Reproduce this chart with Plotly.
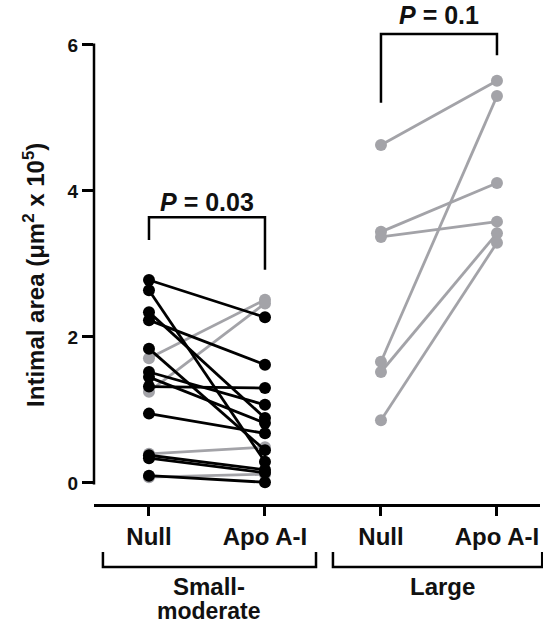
import plotly.graph_objects as go

# ---- data ----
x_cats = ["Null", "Apo A-I", "Null", "Apo A-I"]
x_pos = [1, 2, 3, 4]
y_ticks = [0, 2, 4, 6]

small_null_black = [2.78, 2.64, 2.34, 2.23, 1.84, 1.52, 1.45, 1.32, 0.95, 0.38, 0.34, 0.10]
small_apo_black = [2.27, 0.29, 0.89, 1.62, 0.45, 1.07, 0.82, 1.30, 0.68, 0.18, 0.14, 0.01]
small_null_gray = [1.71, 1.25, 0.40, 0.08]
small_apo_gray = [2.51, 2.46, 0.49, 0.12]
large_null = [4.63, 3.44, 3.37, 1.66, 1.52, 0.86]
large_apo = [5.51, 4.11, 3.58, 5.30, 3.42, 3.29]

group_small_lines = ["Small-", "moderate"]
group_large = "Large"

BLACK = "#000000"
GRAY = "#a3a3a8"
FONT = "Arial, Liberation Sans, sans-serif"

W, H = 543, 626
L, R, T, B = 94, 3, 10, 122
X_MIN, X_MAX = 0.526, 4.371
Y_MIN, Y_MAX = -0.288, 6.479


def pairs(xa, xb, ya, yb):
    xs, ys = [], []
    for a, b in zip(ya, yb):
        xs += [xa, xb, None]
        ys += [a, b, None]
    return xs, ys


def px_to_paper_y(py):
    return (H - B - py) / (H - T - B)


def xdata_to_paper(xd):
    return (xd - X_MIN) / (X_MAX - X_MIN)


fig = go.Figure()

for (xa, xb, ya, yb, col) in [
    (1, 2, small_null_gray, small_apo_gray, GRAY),
    (3, 4, large_null, large_apo, GRAY),
    (1, 2, small_null_black, small_apo_black, BLACK),
]:
    xs, ys = pairs(xa, xb, ya, yb)
    fig.add_trace(go.Scatter(
        x=xs, y=ys, mode="lines+markers",
        line=dict(color=col, width=2.8),
        marker=dict(color=col, size=12),
        showlegend=False, hoverinfo="skip",
    ))

shapes = []
# y axis line (offset style)
shapes.append(dict(type="line", xref="paper", yref="y", x0=0, x1=0, y0=-0.02, y1=6.02,
                   line=dict(color=BLACK, width=2.5)))
# significance brackets
shapes.append(dict(type="path", xref="x", yref="y",
                   path="M 1 3.33 L 1 3.64 L 2 3.64 L 2 2.92",
                   line=dict(color=BLACK, width=2.5)))
shapes.append(dict(type="path", xref="x", yref="y",
                   path="M 3 5.21 L 3 6.15 L 4 6.15 L 4 5.86",
                   line=dict(color=BLACK, width=2.5)))
# group brackets below axis
yb_top = px_to_paper_y(552)
yb_bot = px_to_paper_y(567)
for x0, x1 in [(0.603, 2.44), (2.586, 4.39)]:
    p0, p1 = xdata_to_paper(x0), xdata_to_paper(x1)
    shapes.append(dict(type="path", xref="paper", yref="paper",
                       path=f"M {p0} {yb_top} L {p0} {yb_bot} L {p1} {yb_bot} L {p1} {yb_top}",
                       line=dict(color=BLACK, width=2.5)))

ann_font = dict(family=FONT, size=24, color="#111")
annotations = [
    dict(x=1.5, y=3.85, xref="x", yref="y", text="<b><i>P</i> = 0.03</b>", showarrow=False,
         xanchor="center", yanchor="middle", font=dict(family=FONT, size=25, color="#111")),
    dict(x=3.5, y=6.41, xref="x", yref="y", text="<b><i>P</i> = 0.1</b>", showarrow=False,
         xanchor="center", yanchor="middle", font=dict(family=FONT, size=25, color="#111")),
    dict(x=1.52, y=px_to_paper_y(586), xref="x", yref="paper", text="<b>" + group_small_lines[0] + "</b>",
         showarrow=False, xanchor="center", yanchor="middle", font=ann_font),
    dict(x=1.52, y=px_to_paper_y(611), xref="x", yref="paper", text="<b>" + group_small_lines[1] + "</b>",
         showarrow=False, xanchor="center", yanchor="middle", font=dict(family=FONT, size=23, color="#111")),
    dict(x=3.53, y=px_to_paper_y(586), xref="x", yref="paper", text="<b>" + group_large + "</b>",
         showarrow=False, xanchor="center", yanchor="middle", font=ann_font),
    dict(x=(34 - L) / (W - L - R), y=2.85, xref="paper", yref="y",
         text="<b>Intimal area (μm<sup>2</sup> x 10<sup>5</sup>)</b>", textangle=-90,
         showarrow=False, xanchor="center", yanchor="middle",
         font=dict(family=FONT, size=24, color="#111")),
]

fig.update_layout(
    width=W, height=H,
    margin=dict(l=L, r=R, t=T, b=B),
    paper_bgcolor="white", plot_bgcolor="white",
    shapes=shapes, annotations=annotations,
    xaxis=dict(range=[X_MIN, X_MAX], tickvals=x_pos, ticktext=["<b>" + c + "</b>" for c in x_cats],
               showline=True, linecolor=BLACK, linewidth=2.5, ticks="outside", ticklen=9,
               tickwidth=2.5, tickcolor=BLACK, showgrid=False, zeroline=False,
               tickfont=dict(family=FONT, size=24, color="#111")),
    yaxis=dict(range=[Y_MIN, Y_MAX], tickvals=y_ticks, ticktext=["<b>%d</b>" % v for v in y_ticks],
               showline=False, ticks="outside", ticklen=11, tickwidth=2.5, tickcolor=BLACK,
               showgrid=False, zeroline=False,
               tickfont=dict(family=FONT, size=19, color="#111")),
)

fig.write_html("out.html")
